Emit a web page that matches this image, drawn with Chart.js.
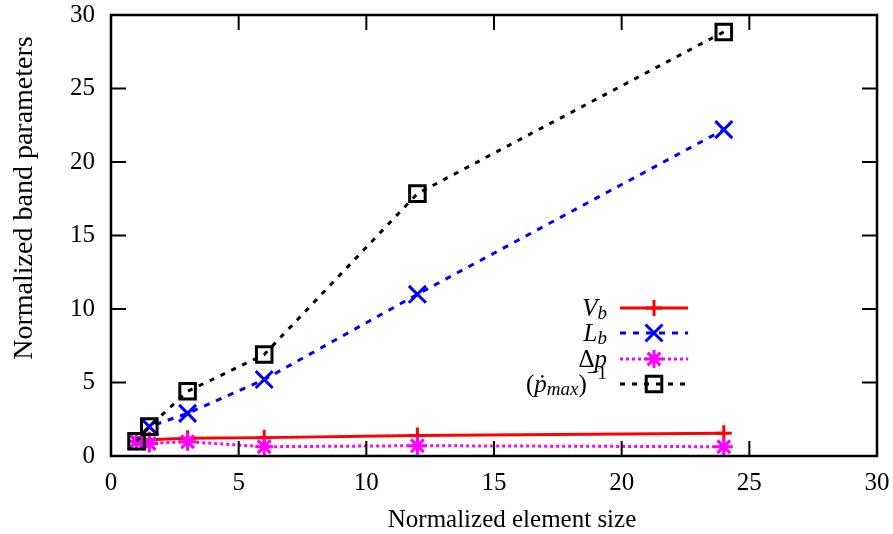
<!DOCTYPE html>
<html>
<head>
<meta charset="utf-8">
<script src="https://cdn.jsdelivr.net/npm/chart.js@4/dist/chart.umd.min.js"></script>
<style>
  html, body { margin: 0; padding: 0; background: #fff; }
  #wrap { width: 893px; height: 534px; }
</style>
</head>
<body>
<div id="wrap"><canvas id="chart" width="893" height="534"></canvas></div>
<script>
// element sizes (x)
var SIZES = [1, 1.5, 3, 6, 12, 24];

// series values
var VB = [1.0, 1.1, 1.2, 1.25, 1.4, 1.55];
var LB = [1.0, 2.0, 2.9, 5.2, 11.0, 22.2];
var DP = [1.0, 0.85, 0.97, 0.63, 0.7, 0.63];
var PMAX = [1.0, 2.0, 4.4, 6.9, 17.85, 28.85];

var TICKS = [0, 5, 10, 15, 20, 25, 30];

var X_TITLE = 'Normalized element size';
var Y_TITLE = 'Normalized band parameters';

var SERIF = '"Liberation Serif", "DejaVu Serif", serif';

function pts(ys) {
  return SIZES.map(function (x, i) { return { x: x, y: ys[i] }; });
}

var SERIES = [
  { key: 'vb', data: VB, color: '#ff0000', dash: [], style: 'cross', radius: 8 },
  { key: 'lb', data: LB, color: '#0000ff', dash: [6, 7], style: 'crossRot', radius: 12 },
  { key: 'dp', data: DP, color: '#ff00ff', dash: [3, 3], style: 'star', radius: 9 },
  { key: 'pm', data: PMAX, color: '#000000', dash: [5, 7], style: 'rect', radius: 11 }
];

// ── frame + mirrored inward ticks + axis titles ──
var framePlugin = {
  id: 'frame',
  afterDatasetsDraw: function (chart) {
    var ctx = chart.ctx, a = chart.chartArea;
    var xs = chart.scales.x, ys = chart.scales.y;
    var len = 15;
    ctx.save();
    ctx.strokeStyle = '#000';
    ctx.lineWidth = 2;
    ctx.setLineDash([]);
    ctx.beginPath();
    TICKS.forEach(function (t) {
      if (t <= 0 || t >= 30) return;
      var px = xs.getPixelForValue(t);
      ctx.moveTo(px, a.bottom); ctx.lineTo(px, a.bottom - len);
      ctx.moveTo(px, a.top); ctx.lineTo(px, a.top + len);
      var py = ys.getPixelForValue(t);
      ctx.moveTo(a.left, py); ctx.lineTo(a.left + len, py);
      ctx.moveTo(a.right, py); ctx.lineTo(a.right - len, py);
    });
    ctx.stroke();
    ctx.lineWidth = 2.5;
    ctx.strokeRect(a.left, a.top, a.right - a.left, a.bottom - a.top);

    // axis titles (gnuplot puts them a bit off-centre)
    ctx.fillStyle = '#000';
    ctx.textAlign = 'center';
    ctx.textBaseline = 'alphabetic';
    ctx.font = '25px ' + SERIF;
    ctx.fillText(X_TITLE, 512, 527);
    ctx.translate(32, 198);
    ctx.rotate(-Math.PI / 2);
    ctx.font = '28px ' + SERIF;
    ctx.fillText(Y_TITLE, 0, 0);
    ctx.restore();
  }
};

// ── legend with math-style labels ──
function drawRuns(ctx, runs, xRight, y) {
  var total = 0;
  runs.forEach(function (r) {
    ctx.font = (r.italic ? 'italic ' : '') + r.size + 'px ' + SERIF;
    r.w = ctx.measureText(r.t).width;
    total += r.w;
  });
  var x = xRight - total;
  runs.forEach(function (r) {
    ctx.font = (r.italic ? 'italic ' : '') + r.size + 'px ' + SERIF;
    ctx.fillText(r.t, x, y + (r.dy || 0));
    x += r.w;
  });
}

var LEGEND_LABELS = [
  [{ t: 'V', italic: true, size: 25 }, { t: 'b', italic: true, size: 19, dy: 5 }],
  [{ t: 'L', italic: true, size: 25 }, { t: 'b', italic: true, size: 19, dy: 5 }],
  [{ t: 'Δ', size: 25 }, { t: 'p', italic: true, size: 25 }],
  [{ t: '(', size: 25 }, { t: 'ṗ', italic: true, size: 25 }, { t: 'max', italic: true, size: 19, dy: 5 },
   { t: ')', size: 25 }, { t: '−1', size: 19, dy: -11 }]
];

var legendPlugin = {
  id: 'mathLegend',
  afterDraw: function (chart) {
    var ctx = chart.ctx;
    var rowY = [308, 333, 359, 384];
    ctx.save();
    ctx.textBaseline = 'middle';
    ctx.textAlign = 'left';
    SERIES.forEach(function (s, i) {
      var y = rowY[i];
      ctx.fillStyle = '#000';
      drawRuns(ctx, LEGEND_LABELS[i], 607, y + 1);
      ctx.strokeStyle = s.color;
      ctx.lineWidth = 3;
      ctx.setLineDash(s.dash);
      ctx.beginPath();
      ctx.moveTo(620, y); ctx.lineTo(688, y);
      ctx.stroke();
      ctx.setLineDash([]);
      ctx.fillStyle = 'rgba(0,0,0,0)';
      ctx.lineWidth = 3;
      Chart.helpers.drawPoint(ctx, {
        pointStyle: s.style, radius: s.radius, rotation: 0, borderWidth: 3
      }, 654, y);
    });
    ctx.restore();
  }
};

var datasets = SERIES.map(function (s) {
  return {
    label: s.key,
    data: pts(s.data),
    borderColor: s.color,
    backgroundColor: 'rgba(0,0,0,0)',
    borderWidth: 3,
    borderDash: s.dash,
    pointStyle: s.style,
    pointRadius: s.radius,
    pointBorderColor: s.color,
    pointBorderWidth: 3,
    pointBackgroundColor: 'rgba(0,0,0,0)',
    tension: 0,
    fill: false,
    clip: false
  };
}).reverse();

new Chart(document.getElementById('chart').getContext('2d'), {
  type: 'line',
  data: { datasets: datasets },
  options: {
    responsive: false,
    animation: false,
    layout: { padding: { top: 14, right: 16, left: 0, bottom: 0 } },
    plugins: { legend: { display: false }, tooltip: { enabled: false } },
    scales: {
      x: {
        type: 'linear', min: 0, max: 30,
        afterBuildTicks: function (s) { s.ticks = TICKS.map(function (v) { return { value: v }; }); },
        afterFit: function (s) { s.height = 78; s.paddingLeft = 0; s.paddingRight = 0; },
        grid: { display: false, drawTicks: false },
        border: { display: false },
        ticks: { color: '#000', padding: 12, maxRotation: 0, font: { family: SERIF, size: 25 } },
        title: { display: false, text: X_TITLE }
      },
      y: {
        type: 'linear', min: 0, max: 30,
        afterBuildTicks: function (s) { s.ticks = TICKS.map(function (v) { return { value: v }; }); },
        afterFit: function (s) { s.width = 111; s.paddingTop = 0; s.paddingBottom = 0; },
        grid: { display: false, drawTicks: false },
        border: { display: false },
        ticks: { color: '#000', padding: 16, font: { family: SERIF, size: 25 } },
        title: { display: false, text: Y_TITLE }
      }
    }
  },
  plugins: [framePlugin, legendPlugin]
});
</script>
</body>
</html>
